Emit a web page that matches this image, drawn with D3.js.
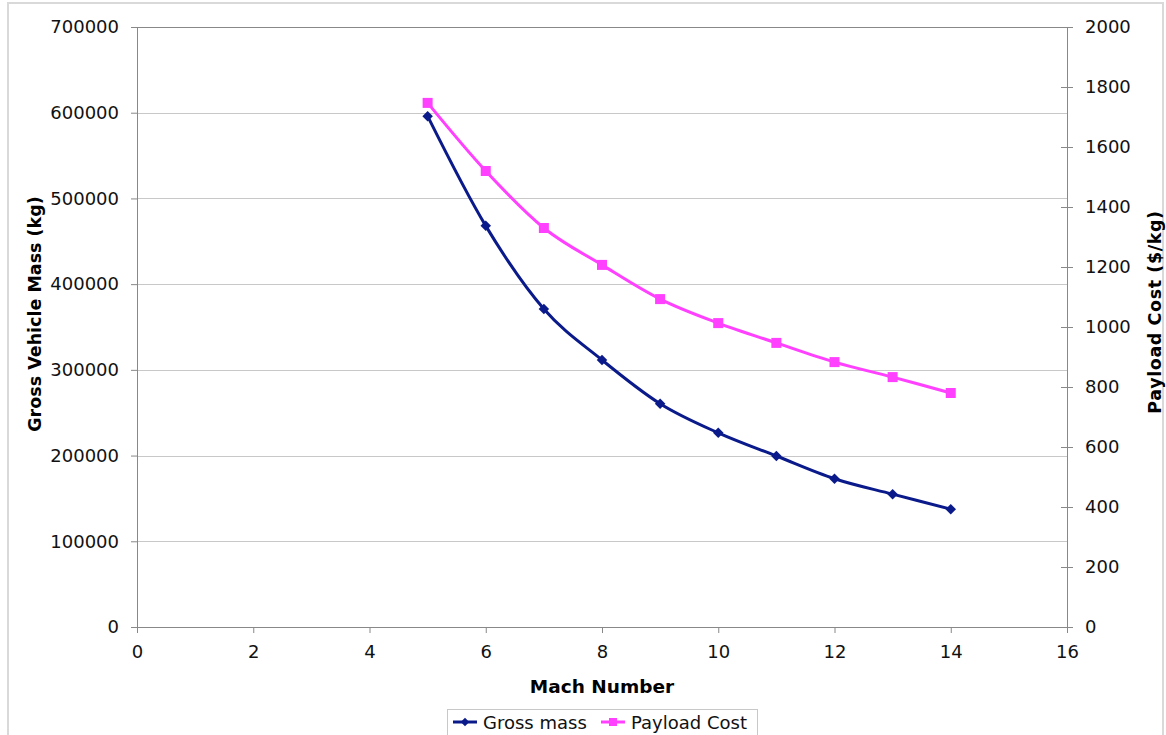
<!DOCTYPE html>
<html><head><meta charset="utf-8">
<script src="https://cdn.jsdelivr.net/npm/d3@7"></script>
<style>body{margin:0;background:#fff;} svg{display:block;font-family:"DejaVu Sans",Verdana,sans-serif;}</style>
</head><body>
<svg id="c" width="1166" height="735"></svg>
<script>
const mach = [5,6,7,8,9,10,11,12,13,14];
const grossMass = [596000,468000,371000,311500,260500,226500,199500,173000,155000,137500];
const payloadCost = [1747,1520,1330,1207,1093,1013,947,883,833,780];
const xTicks = [0,2,4,6,8,10,12,14,16];
const leftTicks = [0,100000,200000,300000,400000,500000,600000,700000];
const rightTicks = [0,200,400,600,800,1000,1200,1400,1600,1800,2000];

const svg = d3.select("#c");
const L=137, R=1067, T=27, B=627;
const x = d3.scaleLinear().domain([0,16]).range([L,R]);
const yL = d3.scaleLinear().domain([0,700000]).range([B,T]);
const yR = d3.scaleLinear().domain([0,2000]).range([B,T]);

// outer border
svg.append("rect").attr("x",8).attr("y",3).attr("width",1155).attr("height",760)
  .attr("fill","none").attr("stroke","#d9d9d9").attr("stroke-width",2);

// gridlines
svg.append("g").selectAll("line").data(leftTicks.slice(1)).join("line")
  .attr("x1",L).attr("x2",R).attr("y1",d=>Math.round(yL(d))+0.5).attr("y2",d=>Math.round(yL(d))+0.5)
  .attr("stroke","#c8c8c8").attr("stroke-width",1);

// axes
const axStyle = g=>{g.selectAll("path").attr("stroke","#888");g.selectAll("line").attr("stroke","#888");
  g.selectAll("text").attr("fill","#111").style("font-size","18px").style("font-family","DejaVu Sans, Verdana, sans-serif");};
svg.append("g").attr("transform",`translate(${L},0)`)
  .call(d3.axisLeft(yL).tickValues(leftTicks).tickFormat(d3.format("d")).tickSize(6).tickSizeOuter(0).tickPadding(12))
  .call(axStyle);
const gr = svg.append("g").attr("transform",`translate(${R},0)`)
  .call(d3.axisRight(yR).tickValues(rightTicks).tickFormat(d3.format("d")).tickSize(6).tickSizeOuter(0).tickPadding(12))
  .call(axStyle);
gr.selectAll(".tick line").attr("x1",-6);
svg.append("g").attr("transform",`translate(0,${B})`)
  .call(d3.axisBottom(x).tickValues(xTicks).tickFormat(d3.format("d")).tickSize(6).tickSizeOuter(0).tickPadding(12))
  .call(axStyle);
svg.append("line").attr("x1",L).attr("x2",R).attr("y1",T+0.5).attr("y2",T+0.5).attr("stroke","#888");

// titles
svg.append("text").attr("x",602).attr("y",693).attr("text-anchor","middle")
  .style("font-size","18.5px").style("font-weight","bold").text("Mach Number");
svg.append("text").attr("transform",`translate(41,314) rotate(-90)`).attr("text-anchor","middle")
  .style("font-size","17.5px").style("font-weight","bold").text("Gross Vehicle Mass (kg)");
svg.append("text").attr("transform",`translate(1161,312) rotate(-90)`).attr("text-anchor","middle")
  .style("font-size","17.5px").style("font-weight","bold").style("letter-spacing","0.6px").text("Payload Cost ($/kg)");

const navy="#0a1a8a", mag="#ff40ff";
const curve = d3.curveCatmullRom.alpha(0);
const massData = mach.map((m,i)=>[m,grossMass[i]]);
const costData = mach.map((m,i)=>[m,payloadCost[i]]);

svg.append("path").datum(costData).attr("fill","none").attr("stroke",mag).attr("stroke-width",3)
  .attr("d",d3.line().x(d=>x(d[0])).y(d=>yR(d[1])).curve(curve));
svg.append("path").datum(massData).attr("fill","none").attr("stroke",navy).attr("stroke-width",3)
  .attr("d",d3.line().x(d=>x(d[0])).y(d=>yL(d[1])).curve(curve));

svg.append("g").selectAll("rect").data(costData).join("rect")
  .attr("x",d=>x(d[0])-5).attr("y",d=>yR(d[1])-5).attr("width",10).attr("height",10).attr("fill",mag);
const diamond = d3.symbol().type(d3.symbolDiamond2).size(70);
svg.append("g").selectAll("path").data(massData).join("path")
  .attr("transform",d=>`translate(${x(d[0])},${yL(d[1])})`).attr("d",diamond).attr("fill",navy);

// legend
const lg = svg.append("g");
lg.append("rect").attr("x",447.5).attr("y",709.5).attr("width",310).attr("height",40)
  .attr("fill","#fff").attr("stroke","#c8c8c8");
lg.append("line").attr("x1",453).attr("x2",477).attr("y1",722).attr("y2",722).attr("stroke",navy).attr("stroke-width",3);
lg.append("path").attr("transform","translate(465,722)").attr("d",d3.symbol().type(d3.symbolDiamond2).size(45)).attr("fill",navy);
lg.append("text").attr("x",483).attr("y",729).style("font-size","18px").attr("fill","#111").text("Gross mass");
lg.append("line").attr("x1",601).attr("x2",625).attr("y1",722).attr("y2",722).attr("stroke",mag).attr("stroke-width",3);
lg.append("rect").attr("x",609).attr("y",718).attr("width",8).attr("height",8).attr("fill",mag);
lg.append("text").attr("x",631).attr("y",729).style("font-size","18px").attr("fill","#111").text("Payload Cost");
</script>
</body></html>
